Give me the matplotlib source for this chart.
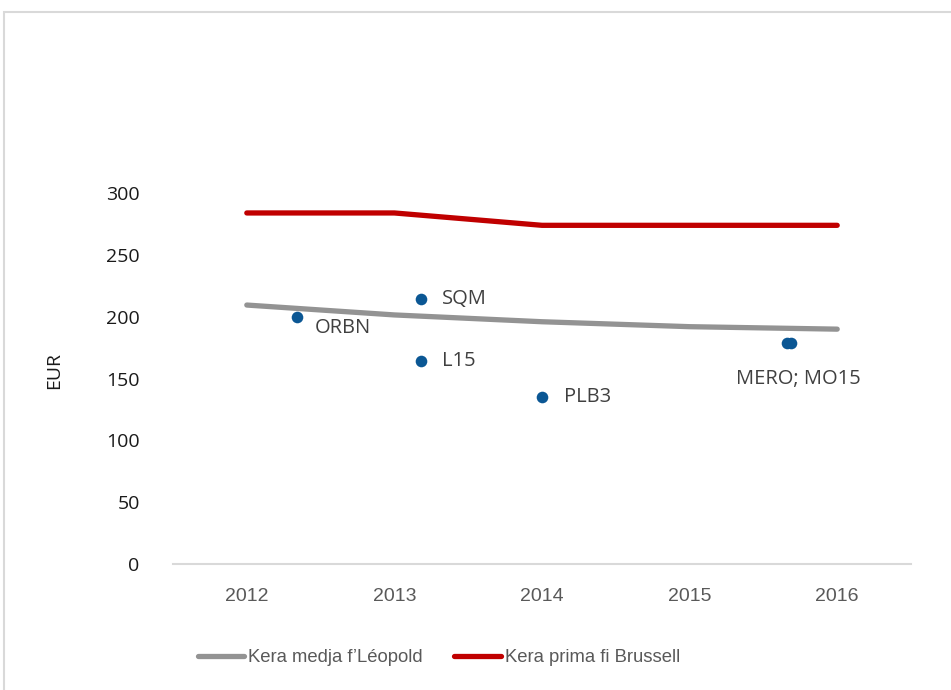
import matplotlib
matplotlib.use("Agg")
import matplotlib.pyplot as plt
from matplotlib.patches import Rectangle

# ---- data ----
years = ["2012", "2013", "2014", "2015", "2016"]
avg_leopold = [209.5, 201.5, 196, 192, 190]      # Kera medja f'Léopold
prime_brussels = [284, 284, 274, 274, 274]       # Kera prima fi Brussell

point_names = ["ORBN", "SQM", "L15", "PLB3", "MERO", "MO15"]
point_x = [0.34, 1.18, 1.18, 2.0, 3.66, 3.69]    # position along the year axis
point_y = [200, 214, 164, 135, 179, 179]
point_labels = ["ORBN", "SQM", "L15", "PLB3", "MERO; MO15", ""]

series_names = ["Kera medja f\u2019Léopold", "Kera prima fi Brussell"]
y_ticks = [0, 50, 100, 150, 200, 250, 300]

# ---- style ----
main_font = ["Open Sans", "DejaVu Sans"]
narrow_font = ["Liberation Sans Narrow", "Liberation Sans", "DejaVu Sans"]

fig = plt.figure(figsize=(9.51, 6.90), dpi=100)
fig.patch.set_facecolor("white")

# outer chart frame
fig.add_artist(Rectangle((4 / 951, -0.2), 2.0, 1.2 - 12 / 690,
                         transform=fig.transFigure, fill=False,
                         edgecolor="#d9d9d9", linewidth=1.5))

ax = fig.add_axes([173 / 951, 126 / 690, 738 / 951, 531.5 / 690])
x = list(range(len(years)))

l1, = ax.plot(x, avg_leopold, color="#939393", linewidth=3.8,
              solid_capstyle="round", solid_joinstyle="round", zorder=2)
l2, = ax.plot(x, prime_brussels, color="#c00000", linewidth=3.8,
              solid_capstyle="round", solid_joinstyle="round", zorder=2)

ax.scatter(point_x, point_y, s=70, color="#0b5794", zorder=3, linewidths=0)

offsets = {
    "ORBN": (13, -8, "left"),
    "SQM": (15, 0, "left"),
    "L15": (15, 0, "left"),
    "PLB3": (16, 0, "left"),
    "MERO; MO15": (8, -26, "center"),
}
for px, py, lab in zip(point_x, point_y, point_labels):
    if not lab:
        continue
    dx, dy, ha = offsets[lab]
    ax.annotate(lab, (px, py), xytext=(dx, dy), textcoords="offset points",
                ha=ha, va="center", fontsize=14.5, color="#404040",
                family=main_font)

ax.set_xlim(-0.5, len(years) - 0.5)
ax.set_ylim(0, 430)
ax.set_xticks(x)
ax.set_xticklabels(years, family=narrow_font, fontsize=14, color="#595959")
ax.set_yticks(y_ticks)
ax.set_yticklabels([str(v) for v in y_ticks], family=main_font, fontsize=14,
                   color="#1a1a1a")
ax.tick_params(axis="x", length=0, pad=17)
ax.tick_params(axis="y", length=0, pad=24)

for side in ["top", "right", "left"]:
    ax.spines[side].set_visible(False)
ax.spines["bottom"].set_color("#d9d9d9")
ax.spines["bottom"].set_linewidth(1.5)

ax.set_ylabel("EUR", family=main_font, fontsize=14, color="#1a1a1a")
ax.yaxis.set_label_coords(-0.149, 0.365)

leg = fig.legend([l1, l2], series_names, loc="center",
                 bbox_to_anchor=(439 / 951, 1 - 658 / 690), ncol=2,
                 frameon=False, handlelength=2.5, handletextpad=0.25,
                 columnspacing=1.7, prop={"family": narrow_font, "size": 13.3})
for t in leg.get_texts():
    t.set_color("#595959")

fig.savefig("out.png", dpi=100, facecolor="white")
